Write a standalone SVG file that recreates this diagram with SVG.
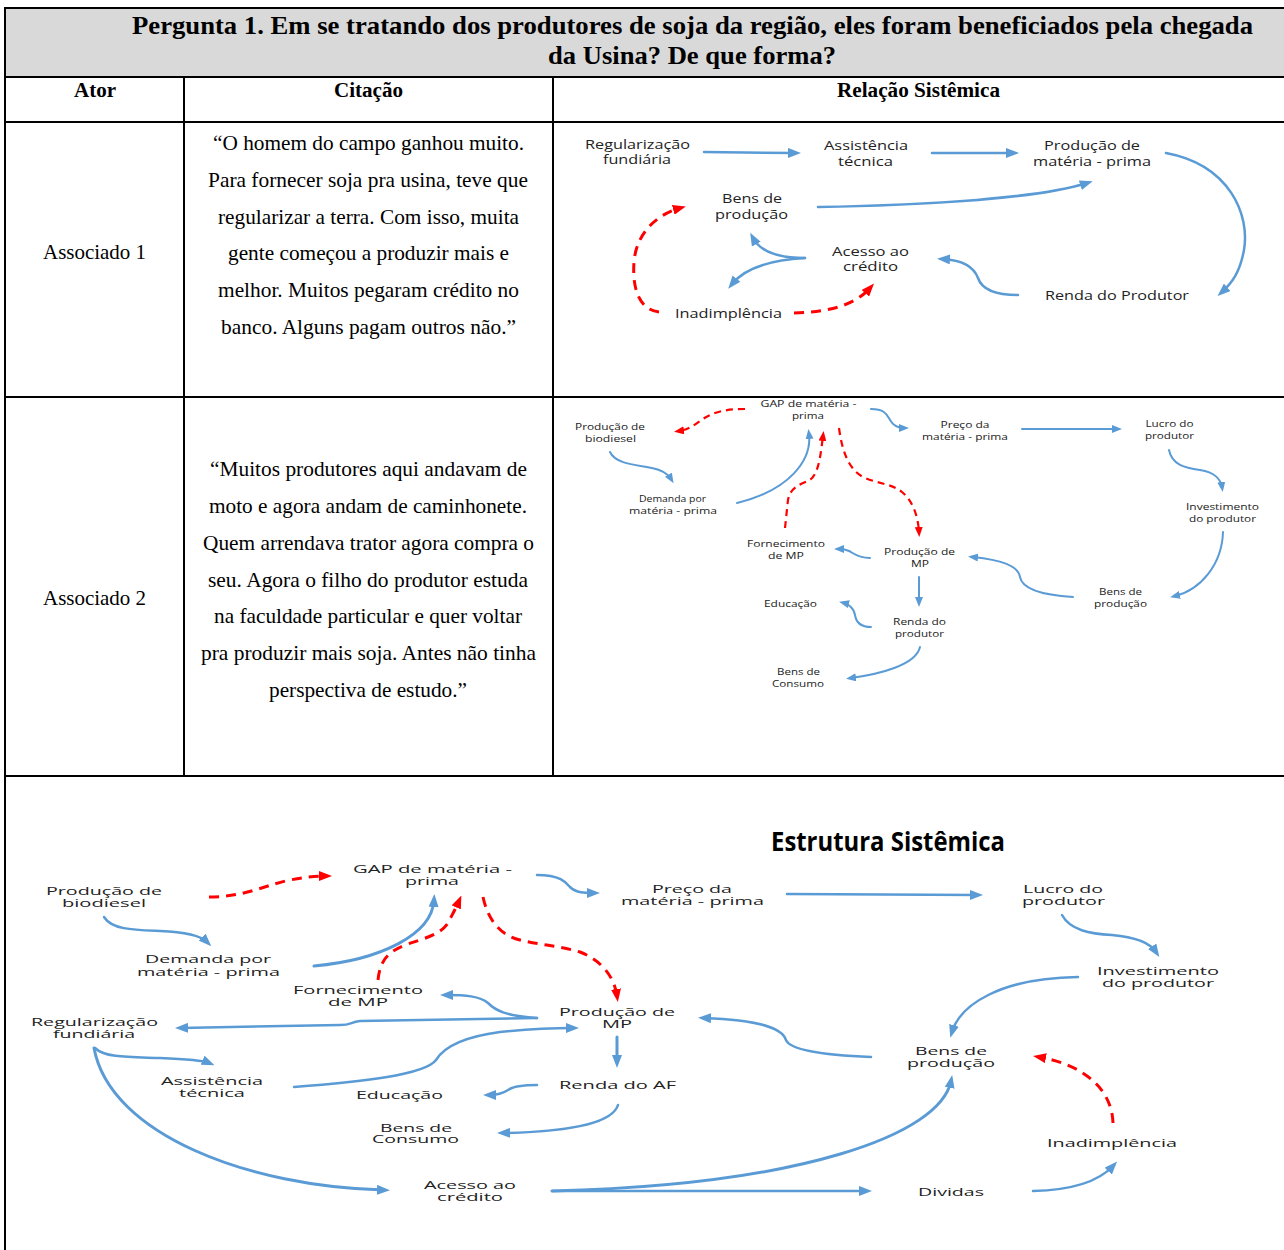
<svg xmlns="http://www.w3.org/2000/svg" width="1284" height="1250" viewBox="0 0 1284 1250">
<style>
.bg{fill:#fff}
.grid{stroke:#000;stroke-width:2;fill:none}
.hd{font-family:"Liberation Serif","Times New Roman",serif;font-weight:bold;fill:#000;text-anchor:middle}
.q{font-family:"Liberation Serif","Times New Roman",serif;font-size:21px;fill:#000;text-anchor:middle}
.n1{font-family:"Open Sans","Noto Sans",sans-serif;font-size:12px;fill:#222;text-anchor:middle}
.n2{font-family:"Open Sans","Noto Sans",sans-serif;font-size:9.5px;fill:#222;text-anchor:middle}
.n3{font-family:"Open Sans","Noto Sans",sans-serif;font-size:10px;fill:#222;text-anchor:middle}
.ttl{font-family:"Open Sans","Noto Sans",sans-serif;font-size:27px;font-weight:bold;fill:#000;text-anchor:middle}
.b{fill:none;stroke:#5B9BD5;stroke-width:2.5;stroke-linecap:round}
.bs{fill:none;stroke:#5B9BD5;stroke-width:2;stroke-linecap:round}
.r{fill:none;stroke:#FF0000;stroke-width:3;stroke-dasharray:10 7}
.rs{fill:none;stroke:#FF0000;stroke-width:2.2;stroke-dasharray:7 5}
</style>
<defs>
<marker id="ab" markerWidth="13" markerHeight="10" refX="7" refY="5" orient="auto" markerUnits="userSpaceOnUse"><path d="M0,0 L13,5 L0,10 z" fill="#5B9BD5"/></marker>
<marker id="abs" markerWidth="10" markerHeight="8" refX="5" refY="4" orient="auto" markerUnits="userSpaceOnUse"><path d="M0,0 L10,4 L0,8 z" fill="#5B9BD5"/></marker>
<marker id="ar" markerWidth="13" markerHeight="10" refX="7" refY="5" orient="auto" markerUnits="userSpaceOnUse"><path d="M0,0 L13,5 L0,10 z" fill="#FF0000"/></marker>
<marker id="ars" markerWidth="10" markerHeight="8" refX="5" refY="4" orient="auto" markerUnits="userSpaceOnUse"><path d="M0,0 L10,4 L0,8 z" fill="#FF0000"/></marker>
</defs>
<rect class="bg" x="0" y="0" width="1284" height="1250"/>

<g id="table">
<rect x="5" y="8" width="1290" height="69" fill="#D9D9D9"/>
<path class="grid" d="M5,8 H1284 M5,77 H1284 M5,122 H1284 M5,397 H1284 M5,776 H1284 M5,7 V1250 M184,77 V776 M553,77 V776"/>
<text class="hd" x="692.5" y="34" font-size="26" textLength="1121" lengthAdjust="spacingAndGlyphs">Pergunta 1. Em se tratando dos produtores de soja da região, eles foram beneficiados pela chegada</text>
<text class="hd" x="692" y="64" font-size="26" textLength="288" lengthAdjust="spacingAndGlyphs">da Usina? De que forma?</text>
<text class="hd" x="95" y="97" font-size="20" textLength="42" lengthAdjust="spacingAndGlyphs">Ator</text>
<text class="hd" x="368.5" y="97" font-size="20" textLength="69" lengthAdjust="spacingAndGlyphs">Citação</text>
<text class="hd" x="918.5" y="97" font-size="20" textLength="163" lengthAdjust="spacingAndGlyphs">Relação Sistêmica</text>
</g>

<g id="row1-text">
<text class="q" x="94.5" y="259" textLength="103" lengthAdjust="spacingAndGlyphs">Associado 1</text>
<text class="q" x="368.5" y="150" textLength="311" lengthAdjust="spacingAndGlyphs">“O homem do campo ganhou muito.</text>
<text class="q" x="368" y="187" textLength="320" lengthAdjust="spacingAndGlyphs">Para fornecer soja pra usina, teve que</text>
<text class="q" x="368.5" y="224" textLength="301" lengthAdjust="spacingAndGlyphs">regularizar a terra. Com isso, muita</text>
<text class="q" x="368.5" y="260" textLength="281" lengthAdjust="spacingAndGlyphs">gente começou a produzir mais e</text>
<text class="q" x="368.5" y="297" textLength="301" lengthAdjust="spacingAndGlyphs">melhor. Muitos pegaram crédito no</text>
<text class="q" x="368.5" y="334" textLength="295" lengthAdjust="spacingAndGlyphs">banco. Alguns pagam outros não.”</text>
</g>

<g id="row2-text">
<text class="q" x="94.5" y="605" textLength="103" lengthAdjust="spacingAndGlyphs">Associado 2</text>
<text class="q" x="368.5" y="476" textLength="317" lengthAdjust="spacingAndGlyphs">“Muitos produtores aqui andavam de</text>
<text class="q" x="368" y="513" textLength="318" lengthAdjust="spacingAndGlyphs">moto e agora andam de caminhonete.</text>
<text class="q" x="368.5" y="550" textLength="331" lengthAdjust="spacingAndGlyphs">Quem arrendava trator agora compra o</text>
<text class="q" x="368" y="587" textLength="320" lengthAdjust="spacingAndGlyphs">seu. Agora o filho do produtor estuda</text>
<text class="q" x="368" y="623" textLength="308" lengthAdjust="spacingAndGlyphs">na faculdade particular e quer voltar</text>
<text class="q" x="368.5" y="660" textLength="335" lengthAdjust="spacingAndGlyphs">pra produzir mais soja. Antes não tinha</text>
<text class="q" x="368" y="697" textLength="198" lengthAdjust="spacingAndGlyphs">perspectiva de estudo.”</text>
</g>

<!-- Diagram 1 -->
<g id="d1-connectors">
<path class="b" d="M704,152 L795,153" marker-end="url(#ab)"/>
<path class="b" d="M932,153 L1013,153" marker-end="url(#ab)"/>
<path class="b" d="M1166,153 C1230,165 1250,215 1244,250 C1240,272 1232,283 1222,292" marker-end="url(#ab)"/>
<path class="b" d="M818,207 C930,205 1040,198 1087,183" marker-end="url(#ab)"/>
<path class="b" d="M805,258 C785,258 762,255 753,238" marker-end="url(#ab)"/>
<path class="b" d="M805,258 C770,260 745,268 732,284" marker-end="url(#ab)"/>
<path class="b" d="M1018,295 C995,295 982,290 978,278 C973,265 960,260 943,259" marker-end="url(#ab)"/>
<path class="r" d="M794,313 C830,312 855,305 870,288" marker-end="url(#ar)"/>
<path class="r" d="M659,312 C640,310 632,290 634,262 C636,235 655,215 680,208" marker-end="url(#ar)"/>
</g>
<g id="d1-regularizacao"><text class="n1" x="637.5" y="149" textLength="105" lengthAdjust="spacingAndGlyphs">Regularização</text><text class="n1" x="637" y="163.5" textLength="68" lengthAdjust="spacingAndGlyphs">fundiária</text></g>
<g id="d1-assistencia"><text class="n1" x="866" y="150" textLength="84" lengthAdjust="spacingAndGlyphs">Assistência</text><text class="n1" x="865.5" y="165.5" textLength="55" lengthAdjust="spacingAndGlyphs">técnica</text></g>
<g id="d1-producao-mp"><text class="n1" x="1092" y="150" textLength="96" lengthAdjust="spacingAndGlyphs">Produção de</text><text class="n1" x="1092" y="165.5" textLength="118" lengthAdjust="spacingAndGlyphs">matéria - prima</text></g>
<g id="d1-bens-producao"><text class="n1" x="752" y="203" textLength="60" lengthAdjust="spacingAndGlyphs">Bens de</text><text class="n1" x="751.5" y="218.5" textLength="73" lengthAdjust="spacingAndGlyphs">produção</text></g>
<g id="d1-acesso-credito"><text class="n1" x="870.5" y="256" textLength="77" lengthAdjust="spacingAndGlyphs">Acesso ao</text><text class="n1" x="870.5" y="270.5" textLength="55" lengthAdjust="spacingAndGlyphs">crédito</text></g>
<g id="d1-inadimplencia"><text class="n1" x="728.5" y="317.5" textLength="107" lengthAdjust="spacingAndGlyphs">Inadimplência</text></g>
<g id="d1-renda"><text class="n1" x="1117" y="299.5" textLength="144" lengthAdjust="spacingAndGlyphs">Renda do Produtor</text></g>

<!-- Diagram 2 -->
<g id="d2-connectors">
<path class="rs" d="M745,409 C720,409 710,414 700,421 C692,427 686,430 679,431" marker-end="url(#ars)"/>
<path class="bs" d="M871,409 C885,409 887,415 890,420 C894,427 899,428 904,428" marker-end="url(#abs)"/>
<path class="bs" d="M610,452 C616,465 640,465 652,468 C662,470 668,474 671,479" marker-end="url(#abs)"/>
<path class="bs" d="M737,503 C790,490 812,460 809,434" marker-end="url(#abs)"/>
<path class="rs" d="M785,528 L788,500 C790,488 800,484 808,481 C818,476 820,460 823,436" marker-end="url(#ars)"/>
<path class="rs" d="M839,428 C842,450 848,470 865,478 C880,484 892,484 902,492 C912,500 918,515 919,532" marker-end="url(#ars)"/>
<path class="bs" d="M870,558 C858,558 853,553 849,551 C845,549 842,549 839,549" marker-end="url(#abs)"/>
<path class="bs" d="M919,577 L919,602" marker-end="url(#abs)"/>
<path class="bs" d="M871,627 C860,627 856,622 855,615 C854,608 848,604 844,603" marker-end="url(#abs)"/>
<path class="bs" d="M920,647 C916,665 880,674 851,678" marker-end="url(#abs)"/>
<path class="bs" d="M1022,429 L1117,429" marker-end="url(#abs)"/>
<path class="bs" d="M1169,450 C1172,465 1185,468 1200,470 C1215,472 1221,480 1222,487" marker-end="url(#abs)"/>
<path class="bs" d="M1223,532 C1222,565 1200,590 1175,596" marker-end="url(#abs)"/>
<path class="bs" d="M1073,597 C1040,595 1022,588 1020,577 C1018,565 1000,560 973,557" marker-end="url(#abs)"/>
</g>
<g id="d2-gap"><text class="n2" x="808.5" y="406.5" textLength="96" lengthAdjust="spacingAndGlyphs">GAP de matéria -</text><text class="n2" x="808" y="418.7" textLength="32" lengthAdjust="spacingAndGlyphs">prima</text></g>
<g id="d2-biodiesel"><text class="n2" x="610" y="430.2" textLength="70" lengthAdjust="spacingAndGlyphs">Produção de</text><text class="n2" x="610.5" y="441.9" textLength="51" lengthAdjust="spacingAndGlyphs">biodiesel</text></g>
<g id="d2-demanda"><text class="n2" x="672.5" y="501.5" textLength="67" lengthAdjust="spacingAndGlyphs">Demanda por</text><text class="n2" x="673" y="513.7" textLength="88" lengthAdjust="spacingAndGlyphs">matéria - prima</text></g>
<g id="d2-fornecimento"><text class="n2" x="786" y="546.5" textLength="78" lengthAdjust="spacingAndGlyphs">Fornecimento</text><text class="n2" x="786" y="558.7" textLength="36" lengthAdjust="spacingAndGlyphs">de MP</text></g>
<g id="d2-producao-mp"><text class="n2" x="919.5" y="555.2" textLength="71" lengthAdjust="spacingAndGlyphs">Produção de</text><text class="n2" x="920" y="566.9" textLength="18" lengthAdjust="spacingAndGlyphs">MP</text></g>
<g id="d2-educacao"><text class="n2" x="790.5" y="606.7" textLength="53" lengthAdjust="spacingAndGlyphs">Educação</text></g>
<g id="d2-renda"><text class="n2" x="919.5" y="624.5" textLength="53" lengthAdjust="spacingAndGlyphs">Renda do</text><text class="n2" x="919.5" y="636.7" textLength="49" lengthAdjust="spacingAndGlyphs">produtor</text></g>
<g id="d2-bens-consumo"><text class="n2" x="798.5" y="675.2" textLength="43" lengthAdjust="spacingAndGlyphs">Bens de</text><text class="n2" x="798" y="686.9" textLength="52" lengthAdjust="spacingAndGlyphs">Consumo</text></g>
<g id="d2-preco"><text class="n2" x="965" y="427.5" textLength="49" lengthAdjust="spacingAndGlyphs">Preço da</text><text class="n2" x="965" y="439.7" textLength="86" lengthAdjust="spacingAndGlyphs">matéria - prima</text></g>
<g id="d2-lucro"><text class="n2" x="1169.5" y="427.2" textLength="48" lengthAdjust="spacingAndGlyphs">Lucro do</text><text class="n2" x="1169.5" y="438.9" textLength="49" lengthAdjust="spacingAndGlyphs">produtor</text></g>
<g id="d2-investimento"><text class="n2" x="1222.5" y="509.5" textLength="73" lengthAdjust="spacingAndGlyphs">Investimento</text><text class="n2" x="1222.5" y="521.7" textLength="67" lengthAdjust="spacingAndGlyphs">do produtor</text></g>
<g id="d2-bens-producao"><text class="n2" x="1120.5" y="595.2" textLength="43" lengthAdjust="spacingAndGlyphs">Bens de</text><text class="n2" x="1120.5" y="606.9" textLength="53" lengthAdjust="spacingAndGlyphs">produção</text></g>

<!-- Diagram 3 -->
<text id="estrutura-title" class="ttl" x="888" y="851" textLength="234" lengthAdjust="spacingAndGlyphs">Estrutura Sistêmica</text>
<g id="d3-connectors">
<path class="r" d="M209,897 C245,897 265,885 290,880 C305,877 315,876 326,876" marker-end="url(#ar)"/>
<path class="b" d="M537,875 C560,875 566,882 570,887 C576,893 585,893 594,893" marker-end="url(#ab)"/>
<path class="b" d="M104,917 C112,930 135,930 160,931 C185,932 200,935 207,942" marker-end="url(#ab)"/>
<path class="b" d="M314,966 C380,960 432,935 434,900" marker-end="url(#ab)" style="stroke-width:3"/>
<path class="r" d="M378,980 C380,960 388,952 405,945 C425,938 440,935 448,923 C452,915 456,908 459,901" marker-end="url(#ar)"/>
<path class="r" d="M483,897 C488,920 500,935 520,940 C540,945 560,946 580,952 C600,960 614,975 617,996" marker-end="url(#ar)"/>
<path class="b" d="M537,1018 C505,1016 495,1010 488,1003 C480,996 465,995 446,995" marker-end="url(#ab)"/>
<path class="b" d="M537,1018 L360,1021 C350,1022 352,1025 340,1025 L181,1028" marker-end="url(#ab)"/>
<path class="b" d="M294,1087 C360,1082 425,1075 436,1060 C445,1045 470,1036 500,1032 C530,1029 555,1028 573,1028" marker-end="url(#ab)"/>
<path class="b" d="M95,1048 C105,1058 130,1057 160,1058 C185,1059 202,1060 209,1063" marker-end="url(#ab)"/>
<path class="b" d="M94,1048 C110,1135 250,1187 384,1190" marker-end="url(#ab)" style="stroke-width:3"/>
<path class="b" d="M537,1085 C520,1085 512,1087 508,1090 C502,1094 495,1095 489,1095" marker-end="url(#ab)"/>
<path class="b" d="M618,1105 C612,1125 560,1132 503,1133" marker-end="url(#ab)"/>
<path class="b" d="M617,1037 L617,1062" marker-end="url(#ab)" style="stroke-width:3"/>
<path class="b" d="M787,894 L977,895" marker-end="url(#ab)"/>
<path class="b" d="M1062,915 C1070,930 1090,934 1112,935 C1135,937 1150,943 1156,952" marker-end="url(#ab)"/>
<path class="b" d="M1078,977 C1000,978 960,1005 952,1032" marker-end="url(#ab)"/>
<path class="b" d="M871,1057 C820,1055 790,1050 786,1040 C782,1028 760,1020 704,1018" marker-end="url(#ab)"/>
<path class="r" d="M1113,1123 C1112,1090 1085,1065 1039,1057" marker-end="url(#ar)"/>
<path class="b" d="M552,1191 L866,1191" marker-end="url(#ab)"/>
<path class="b" d="M552,1191 C800,1185 940,1135 951,1081" marker-end="url(#ab)" style="stroke-width:3"/>
<path class="b" d="M1033,1191 C1075,1190 1100,1180 1113,1166" marker-end="url(#ab)"/>
</g>
<g id="d3-gap"><text class="n3" x="432.5" y="872.5" textLength="159" lengthAdjust="spacingAndGlyphs">GAP de matéria -</text><text class="n3" x="432" y="884.5" textLength="54" lengthAdjust="spacingAndGlyphs">prima</text></g>
<g id="d3-biodiesel"><text class="n3" x="104" y="894.5" textLength="116" lengthAdjust="spacingAndGlyphs">Produção de</text><text class="n3" x="104" y="906.5" textLength="84" lengthAdjust="spacingAndGlyphs">biodiesel</text></g>
<g id="d3-demanda"><text class="n3" x="208" y="963" textLength="126" lengthAdjust="spacingAndGlyphs">Demanda por</text><text class="n3" x="208.5" y="975.5" textLength="143" lengthAdjust="spacingAndGlyphs">matéria - prima</text></g>
<g id="d3-fornecimento"><text class="n3" x="358" y="993.5" textLength="130" lengthAdjust="spacingAndGlyphs">Fornecimento</text><text class="n3" x="358" y="1005.5" textLength="60" lengthAdjust="spacingAndGlyphs">de MP</text></g>
<g id="d3-regularizacao"><text class="n3" x="94.5" y="1026" textLength="127" lengthAdjust="spacingAndGlyphs">Regularização</text><text class="n3" x="94" y="1037.5" textLength="82" lengthAdjust="spacingAndGlyphs">fundiária</text></g>
<g id="d3-producao-mp"><text class="n3" x="617" y="1015.5" textLength="116" lengthAdjust="spacingAndGlyphs">Produção de</text><text class="n3" x="617" y="1027.5" textLength="30" lengthAdjust="spacingAndGlyphs">MP</text></g>
<g id="d3-assistencia"><text class="n3" x="212" y="1084.5" textLength="102" lengthAdjust="spacingAndGlyphs">Assistência</text><text class="n3" x="212" y="1096.5" textLength="66" lengthAdjust="spacingAndGlyphs">técnica</text></g>
<g id="d3-educacao"><text class="n3" x="399.5" y="1099" textLength="87" lengthAdjust="spacingAndGlyphs">Educação</text></g>
<g id="d3-renda-af"><text class="n3" x="617.5" y="1089" textLength="117" lengthAdjust="spacingAndGlyphs">Renda do AF</text></g>
<g id="d3-bens-consumo"><text class="n3" x="416" y="1131.5" textLength="72" lengthAdjust="spacingAndGlyphs">Bens de</text><text class="n3" x="415.5" y="1143" textLength="87" lengthAdjust="spacingAndGlyphs">Consumo</text></g>
<g id="d3-acesso"><text class="n3" x="470" y="1188.5" textLength="92" lengthAdjust="spacingAndGlyphs">Acesso ao</text><text class="n3" x="470" y="1200.5" textLength="66" lengthAdjust="spacingAndGlyphs">crédito</text></g>
<g id="d3-preco"><text class="n3" x="692" y="892.5" textLength="80" lengthAdjust="spacingAndGlyphs">Preço da</text><text class="n3" x="692.5" y="904.5" textLength="143" lengthAdjust="spacingAndGlyphs">matéria - prima</text></g>
<g id="d3-lucro"><text class="n3" x="1063" y="892.5" textLength="80" lengthAdjust="spacingAndGlyphs">Lucro do</text><text class="n3" x="1063.5" y="904.5" textLength="83" lengthAdjust="spacingAndGlyphs">produtor</text></g>
<g id="d3-investimento"><text class="n3" x="1158" y="974.5" textLength="122" lengthAdjust="spacingAndGlyphs">Investimento</text><text class="n3" x="1158" y="986.5" textLength="112" lengthAdjust="spacingAndGlyphs">do produtor</text></g>
<g id="d3-bens-producao"><text class="n3" x="951" y="1054.5" textLength="72" lengthAdjust="spacingAndGlyphs">Bens de</text><text class="n3" x="951" y="1066.5" textLength="88" lengthAdjust="spacingAndGlyphs">produção</text></g>
<g id="d3-inadimplencia"><text class="n3" x="1112" y="1147" textLength="130" lengthAdjust="spacingAndGlyphs">Inadimplência</text></g>
<g id="d3-dividas"><text class="n3" x="951" y="1196" textLength="66" lengthAdjust="spacingAndGlyphs">Dividas</text></g>
</svg>
